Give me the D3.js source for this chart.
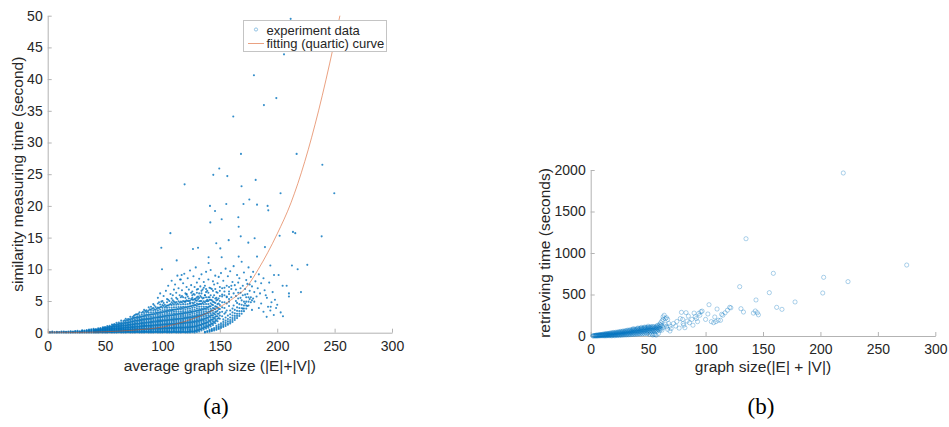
<!DOCTYPE html>
<html>
<head>
<meta charset="utf-8">
<script src="https://cdn.jsdelivr.net/npm/d3@7"></script>
<style>
  html, body { margin: 0; padding: 0; background: #fff; }
  svg { display: block; }
  .tick text { font-family: "Liberation Sans", Arial, Helvetica, sans-serif; font-size: 14px; fill: #262626; }
  .lbl { font-family: "Liberation Sans", Arial, Helvetica, sans-serif; font-size: 15.5px; fill: #262626; }
  .cap { font-family: "Liberation Serif", "Times New Roman", serif; font-size: 23px; fill: #000; }
  .leg { font-family: "Liberation Sans", Arial, Helvetica, sans-serif; font-size: 13px; fill: #262626; }
</style>
</head>
<body>
<svg id="fig" width="949" height="427"></svg>
<script>
// ---------- (a) similarity measuring time vs average graph size ----------
const xTicksA = [0, 50, 100, 150, 200, 250, 300];
const yTicksA = [0, 5, 10, 15, 20, 25, 30, 35, 40, 45, 50];

// main band of measurements: each row is [graph size, time, time, ...]
const bandA = [
  [2, 0.05, 0.12], [4, 0.02, 0.1, 0.18], [6, 0.04, 0.12], [8, 0.02, 0.08, 0.15],
  [10, 0.05, 0.12], [12, 0.03, 0.1, 0.17], [14, 0.05, 0.12, 0.2], [16, 0.02, 0.09, 0.16],
  [18, 0.04, 0.11, 0.19], [20, 0.02, 0.08, 0.15, 0.22], [22, 0.05, 0.12, 0.2],
  [24, 0.03, 0.1, 0.17, 0.25], [26, 0.05, 0.12, 0.2, 0.28], [28, 0.02, 0.09, 0.16, 0.24],
  [30, 0.04, 0.12, 0.2, 0.28, 0.36], [32, 0.02, 0.1, 0.18, 0.26, 0.34],
  [34, 0.05, 0.13, 0.22, 0.3, 0.4], [36, 0.03, 0.11, 0.2, 0.29, 0.38, 0.48],
  [38, 0.05, 0.14, 0.23, 0.32, 0.42, 0.55], [40, 0.02, 0.11, 0.2, 0.3, 0.4, 0.5, 0.62],
  [42, 0.05, 0.14, 0.24, 0.34, 0.44, 0.56], [44, 0.03, 0.12, 0.22, 0.32, 0.43, 0.54, 0.68],
  [46, 0.06, 0.16, 0.26, 0.37, 0.48, 0.6, 0.74], [48, 0.02, 0.12, 0.22, 0.33, 0.44, 0.56, 0.68, 0.85],
  [50, 0.05, 0.15, 0.26, 0.37, 0.49, 0.61, 0.74, 0.9],
  [52, 0.03, 0.13, 0.24, 0.35, 0.47, 0.59, 0.72, 0.86, 1.05],
  [54, 0.06, 0.17, 0.28, 0.4, 0.52, 0.65, 0.78, 0.93, 1.1],
  [56, 0.02, 0.13, 0.25, 0.37, 0.49, 0.62, 0.76, 0.9, 1.06, 1.3],
  [58, 0.05, 0.16, 0.28, 0.4, 0.53, 0.66, 0.8, 0.95, 1.12, 1.35],
  [60, 0.03, 0.14, 0.26, 0.38, 0.51, 0.64, 0.78, 0.93, 1.09, 1.27, 1.55],
  [62, 0.06, 0.18, 0.3, 0.43, 0.56, 0.7, 0.85, 1.0, 1.17, 1.36, 1.6],
  [64, 0.02, 0.14, 0.27, 0.4, 0.53, 0.67, 0.82, 0.98, 1.15, 1.33, 1.55, 1.9],
  [66, 0.05, 0.17, 0.3, 0.43, 0.57, 0.71, 0.86, 1.02, 1.2, 1.38, 1.6, 1.85],
  [68, 0.03, 0.15, 0.28, 0.41, 0.55, 0.7, 0.85, 1.01, 1.18, 1.37, 1.58, 1.82, 2.2],
  [70, 0.06, 0.18, 0.31, 0.45, 0.59, 0.74, 0.9, 1.06, 1.24, 1.43, 1.64, 1.88, 2.15],
  [72, 0.02, 0.15, 0.28, 0.42, 0.56, 0.71, 0.87, 1.04, 1.22, 1.41, 1.62, 1.85, 2.1, 2.5],
  [74, 0.05, 0.18, 0.32, 0.46, 0.61, 0.76, 0.92, 1.09, 1.27, 1.46, 1.67, 1.9, 2.15, 2.45],
  [76, 0.03, 0.16, 0.3, 0.44, 0.59, 0.75, 0.91, 1.08, 1.26, 1.45, 1.66, 1.88, 2.12, 2.4, 2.8],
  [78, 0.06, 0.19, 0.33, 0.48, 0.63, 0.79, 0.96, 1.14, 1.33, 1.53, 1.74, 1.97, 2.22, 2.5, 2.85],
  [80, 0.02, 0.16, 0.3, 0.45, 0.6, 0.76, 0.93, 1.11, 1.3, 1.5, 1.71, 1.94, 2.18, 2.45, 2.75, 3.2],
  [82, 0.05, 0.19, 0.34, 0.49, 0.65, 0.81, 0.98, 1.16, 1.35, 1.55, 1.77, 2.0, 2.25, 2.52, 2.82, 3.15],
  [84, 0.03, 0.17, 0.32, 0.47, 0.63, 0.8, 0.97, 1.15, 1.34, 1.54, 1.76, 1.99, 2.24, 2.5, 2.8, 3.1, 3.6],
  [86, 0.06, 0.2, 0.35, 0.51, 0.67, 0.84, 1.02, 1.2, 1.4, 1.61, 1.83, 2.06, 2.3, 2.57, 2.86, 3.2, 3.55],
  [88, 0.02, 0.17, 0.32, 0.48, 0.64, 0.81, 0.99, 1.18, 1.37, 1.58, 1.8, 2.03, 2.28, 2.55, 2.84, 3.15, 3.5, 4.0],
  [90, 0.05, 0.2, 0.35, 0.51, 0.68, 0.85, 1.03, 1.22, 1.42, 1.63, 1.85, 2.08, 2.33, 2.6, 2.9, 3.22, 3.6, 4.1],
  [92, 0.03, 0.18, 0.34, 0.5, 0.67, 0.84, 1.02, 1.21, 1.41, 1.62, 1.84, 2.07, 2.32, 2.58, 2.87, 3.18, 3.5, 3.9, 4.5],
  [94, 0.06, 0.21, 0.37, 0.53, 0.7, 0.88, 1.06, 1.25, 1.45, 1.66, 1.88, 2.11, 2.36, 2.63, 2.92, 3.24, 3.6, 4.05],
  [96, 0.02, 0.18, 0.34, 0.51, 0.68, 0.86, 1.05, 1.24, 1.44, 1.65, 1.87, 2.1, 2.35, 2.62, 2.9, 3.2, 3.55, 3.95, 4.6],
  [98, 0.05, 0.21, 0.37, 0.54, 0.72, 0.9, 1.09, 1.28, 1.48, 1.69, 1.91, 2.14, 2.39, 2.66, 2.95, 3.27, 3.62, 4.0, 4.45],
  [100, 0.03, 0.19, 0.35, 0.52, 0.7, 0.88, 1.07, 1.27, 1.47, 1.68, 1.9, 2.13, 2.38, 2.64, 2.92, 3.22, 3.55, 3.92, 4.35, 5.0],
  [102, 0.06, 0.22, 0.38, 0.55, 0.73, 0.91, 1.1, 1.3, 1.5, 1.71, 1.93, 2.16, 2.41, 2.67, 2.95, 3.25, 3.58, 3.95, 4.4],
  [104, 0.02, 0.18, 0.35, 0.52, 0.7, 0.89, 1.08, 1.28, 1.49, 1.7, 1.92, 2.15, 2.4, 2.66, 2.94, 3.24, 3.56, 3.92, 4.3, 4.8],
  [106, 0.05, 0.21, 0.38, 0.56, 0.74, 0.93, 1.12, 1.32, 1.53, 1.74, 1.96, 2.2, 2.45, 2.71, 2.99, 3.29, 3.62, 3.98, 4.4, 5.0],
  [108, 0.03, 0.19, 0.36, 0.54, 0.72, 0.91, 1.1, 1.3, 1.51, 1.72, 1.95, 2.18, 2.43, 2.7, 2.98, 3.28, 3.6, 3.95, 4.35, 4.8, 5.4],
  [110, 0.06, 0.22, 0.39, 0.57, 0.75, 0.94, 1.13, 1.33, 1.54, 1.76, 1.99, 2.23, 2.48, 2.75, 3.03, 3.33, 3.66, 4.02, 4.42, 4.9],
  [112, 0.02, 0.19, 0.36, 0.54, 0.73, 0.92, 1.12, 1.32, 1.53, 1.75, 1.98, 2.22, 2.47, 2.74, 3.02, 3.32, 3.64, 4.0, 4.4, 4.85, 5.5],
  [114, 0.05, 0.22, 0.4, 0.58, 0.77, 0.96, 1.16, 1.36, 1.57, 1.79, 2.02, 2.26, 2.51, 2.78, 3.06, 3.36, 3.69, 4.05, 4.45, 4.95],
  [116, 0.03, 0.2, 0.38, 0.56, 0.75, 0.94, 1.14, 1.35, 1.56, 1.78, 2.01, 2.25, 2.5, 2.77, 3.05, 3.35, 3.68, 4.04, 4.44, 4.9, 5.6],
  [118, 0.06, 0.23, 0.41, 0.59, 0.78, 0.98, 1.18, 1.39, 1.6, 1.82, 2.05, 2.29, 2.54, 2.81, 3.09, 3.4, 3.73, 4.1, 4.5, 5.0],
  [120, 0.02, 0.2, 0.38, 0.57, 0.76, 0.96, 1.16, 1.37, 1.59, 1.81, 2.04, 2.28, 2.53, 2.8, 3.08, 3.38, 3.7, 4.06, 4.46, 4.92, 5.5],
  [122, 0.05, 0.23, 0.41, 0.6, 0.8, 1.0, 1.2, 1.41, 1.63, 1.85, 2.08, 2.32, 2.57, 2.84, 3.12, 3.43, 3.76, 4.12, 4.52, 5.0, 5.7],
  [124, 0.03, 0.21, 0.4, 0.59, 0.79, 0.99, 1.2, 1.41, 1.63, 1.86, 2.09, 2.33, 2.59, 2.86, 3.14, 3.45, 3.78, 4.15, 4.56, 5.05],
  [126, 0.08, 0.27, 0.46, 0.66, 0.86, 1.07, 1.28, 1.5, 1.72, 1.95, 2.19, 2.44, 2.7, 2.98, 3.27, 3.58, 3.92, 4.3, 4.72, 5.2, 5.9],
  [128, 0.05, 0.25, 0.45, 0.65, 0.86, 1.07, 1.29, 1.51, 1.74, 1.97, 2.21, 2.46, 2.72, 3.0, 3.3, 3.62, 3.97, 4.36, 4.8, 5.3],
  [130, 0.1, 0.32, 0.54, 0.76, 0.98, 1.2, 1.43, 1.66, 1.9, 2.14, 2.39, 2.65, 2.92, 3.2, 3.5, 3.83, 4.2, 4.6, 5.05, 5.6, 6.3],
  [132, 0.2, 0.42, 0.64, 0.87, 1.1, 1.33, 1.57, 1.81, 2.06, 2.31, 2.57, 2.84, 3.12, 3.42, 3.74, 4.1, 4.5, 4.95, 5.5],
  [134, 0.35, 0.58, 0.81, 1.04, 1.28, 1.52, 1.77, 2.02, 2.28, 2.55, 2.83, 3.12, 3.43, 3.76, 4.12, 4.52, 5.0, 5.6, 6.2],
  [136, 0.5, 0.74, 0.98, 1.22, 1.47, 1.72, 1.98, 2.24, 2.51, 2.79, 3.08, 3.39, 3.72, 4.08, 4.48, 4.95, 5.5],
  [138, 0.65, 0.9, 1.15, 1.4, 1.66, 1.92, 2.19, 2.47, 2.76, 3.06, 3.38, 3.72, 4.1, 4.52, 5.0, 5.6, 6.4],
  [140, 0.8, 1.06, 1.32, 1.58, 1.85, 2.12, 2.4, 2.7, 3.0, 3.33, 3.68, 4.06, 4.5, 5.0, 5.6],
  [142, 1.0, 1.28, 1.56, 1.84, 2.13, 2.43, 2.74, 3.06, 3.4, 3.77, 4.18, 4.65, 5.2, 5.9],
  [144, 1.2, 1.5, 1.8, 2.1, 2.42, 2.75, 3.1, 3.47, 3.88, 4.35, 4.9, 5.6],
  [146, 1.5, 1.82, 2.15, 2.5, 2.86, 3.25, 3.68, 4.15, 4.7, 5.4],
  [148, 1.8, 2.2, 2.6, 3.0, 3.45, 3.95, 4.5, 5.2],
  [150, 2.2, 2.7, 3.2, 3.75, 4.35, 5.0, 5.8],
  [152, 2.6, 3.3, 4.0, 4.8, 5.7], [154, 3.0, 3.9, 4.8, 5.9], [156, 3.5, 4.6, 5.7], [158, 4.2, 5.3, 6.5]
];

// further measurements in the band, at odd sizes
const coreA = [
  [41, 0.08, 0.25, 0.42], [43, 0.07, 0.27, 0.47], [45, 0.09, 0.3, 0.52], [47, 0.08, 0.31, 0.55],
  [49, 0.1, 0.33, 0.58, 0.8], [51, 0.09, 0.32, 0.56, 0.82], [53, 0.1, 0.34, 0.6, 0.88],
  [55, 0.09, 0.36, 0.64, 0.95], [57, 0.11, 0.38, 0.67, 0.98, 1.2], [59, 0.1, 0.37, 0.66, 0.97, 1.25],
  [61, 0.1, 0.38, 0.68, 1.0, 1.32], [63, 0.12, 0.4, 0.72, 1.05, 1.4], [65, 0.11, 0.42, 0.75, 1.1, 1.46],
  [67, 0.12, 0.44, 0.78, 1.14, 1.52, 1.95], [69, 0.1, 0.43, 0.8, 1.18, 1.58, 2.0],
  [71, 0.12, 0.46, 0.84, 1.24, 1.66, 2.1], [73, 0.11, 0.48, 0.88, 1.3, 1.74, 2.2],
  [75, 0.13, 0.5, 0.9, 1.34, 1.8, 2.3, 2.65], [77, 0.12, 0.52, 0.94, 1.4, 1.88, 2.38, 2.9],
  [79, 0.1, 0.5, 0.95, 1.42, 1.92, 2.42, 3.0], [81, 0.12, 0.54, 1.0, 1.48, 1.98, 2.5],
  [83, 0.11, 0.56, 1.04, 1.54, 2.06, 2.6, 3.3], [85, 0.13, 0.58, 1.07, 1.58, 2.12, 2.7, 3.4],
  [87, 0.12, 0.6, 1.1, 1.62, 2.18, 2.78, 3.35], [89, 0.1, 0.58, 1.1, 1.64, 2.22, 2.84, 3.7],
  [91, 0.12, 0.62, 1.14, 1.7, 2.28, 2.92, 3.8], [93, 0.11, 0.64, 1.18, 1.75, 2.35, 3.0, 3.7, 4.3],
  [95, 0.13, 0.66, 1.2, 1.78, 2.4, 3.08, 3.8], [97, 0.12, 0.65, 1.22, 1.82, 2.45, 3.14, 3.88, 4.8],
  [99, 0.1, 0.67, 1.25, 1.86, 2.5, 3.2, 4.1], [101, 0.12, 0.7, 1.3, 1.92, 2.58, 3.3, 4.2, 4.7],
  [103, 0.11, 0.7, 1.32, 1.96, 2.64, 3.38, 4.15], [105, 0.13, 0.72, 1.34, 2.0, 2.7, 3.46, 4.3, 5.2],
  [107, 0.12, 0.74, 1.38, 2.05, 2.76, 3.52, 4.5], [109, 0.1, 0.73, 1.38, 2.06, 2.8, 3.6, 4.6, 5.1],
  [111, 0.12, 0.76, 1.42, 2.12, 2.86, 3.66, 4.7], [113, 0.11, 0.78, 1.45, 2.16, 2.92, 3.74, 4.6, 5.3],
  [115, 0.13, 0.8, 1.48, 2.2, 2.98, 3.82, 4.75], [117, 0.12, 0.8, 1.5, 2.24, 3.02, 3.88, 4.8, 5.8],
  [119, 0.1, 0.82, 1.54, 2.3, 3.1, 3.96, 4.9], [121, 0.12, 0.84, 1.57, 2.34, 3.15, 4.02, 5.1, 6.0],
  [123, 0.15, 0.86, 1.6, 2.38, 3.2, 4.1, 5.0], [125, 0.18, 0.9, 1.65, 2.44, 3.28, 4.18, 5.3],
  [127, 0.2, 0.95, 1.7, 2.5, 3.35, 4.25, 5.2, 6.1], [129, 0.28, 1.0, 1.76, 2.56, 3.42, 4.35, 5.4],
  [131, 0.4, 1.1, 1.85, 2.64, 3.5, 4.45, 5.3], [133, 0.55, 1.22, 1.95, 2.72, 3.58, 4.55, 5.8],
  [135, 0.7, 1.36, 2.06, 2.82, 3.68, 4.7], [137, 0.85, 1.5, 2.2, 2.95, 3.8, 4.8, 5.9],
  [139, 1.0, 1.65, 2.35, 3.1, 3.95, 4.95], [141, 1.2, 1.85, 2.55, 3.3, 4.15, 5.2],
  [143, 1.4, 2.05, 2.75, 3.55, 4.45], [145, 1.65, 2.3, 3.0, 3.8, 4.8], [147, 1.95, 2.6, 3.3, 4.1, 5.1],
  [149, 2.3, 3.0, 3.75, 4.6]
];

// second, lower branch that starts near size 137
const branchA = [
  [137, 0.05, 0.15], [139, 0.1, 0.25], [141, 0.15, 0.3, 0.45], [143, 0.25, 0.4, 0.6],
  [145, 0.35, 0.55, 0.75], [147, 0.45, 0.65, 0.85, 1.1], [149, 0.6, 0.8, 1.0, 1.3],
  [151, 0.75, 0.95, 1.2, 1.5], [153, 0.9, 1.1, 1.35, 1.7, 2.1], [155, 1.05, 1.3, 1.55, 1.9, 2.4],
  [157, 1.25, 1.5, 1.8, 2.15, 2.7], [159, 1.45, 1.7, 2.0, 2.4, 2.9, 3.5],
  [161, 1.7, 2.0, 2.3, 2.7, 3.2, 3.8], [163, 2.0, 2.3, 2.65, 3.05, 3.6],
  [165, 2.3, 2.65, 3.0, 3.45, 4.0, 4.7], [167, 2.65, 3.0, 3.4, 3.9, 4.5],
  [169, 3.0, 3.4, 3.85, 4.4, 5.1], [171, 3.4, 3.8, 4.3, 4.9], [173, 3.8, 4.3, 4.9, 5.6],
  [175, 4.3, 4.9, 5.6], [177, 4.8, 5.6], [179, 5.4]
];

// scattered measurements above the band
const scatterA = [
  [96, 5.5], [98, 6.2], [99, 4.9], [101, 5.8], [103, 6.6], [104, 5.3], [105, 7.4], [107, 6.1],
  [108, 8.2], [109, 5.9], [110, 6.8], [111, 7.6], [112, 6.3], [113, 9.0], [114, 7.0], [115, 5.9],
  [116, 8.4], [117, 6.7], [118, 7.8], [119, 9.3], [120, 6.2], [121, 7.2], [122, 8.6], [123, 6.8],
  [124, 9.8], [125, 7.5], [126, 6.5], [127, 8.9], [128, 7.2], [129, 10.3], [130, 7.9], [131, 6.9],
  [132, 8.5], [133, 7.3], [134, 9.2], [135, 6.8], [136, 8.0], [137, 7.4], [138, 9.6], [139, 6.6],
  [140, 8.4], [141, 7.1], [142, 9.9], [143, 6.9], [144, 8.1], [145, 7.6], [146, 9.0], [147, 6.4],
  [148, 7.8], [149, 8.8], [150, 6.6], [151, 9.4], [152, 7.0], [153, 8.2], [154, 6.5], [155, 10.1],
  [156, 7.4], [157, 8.9], [158, 7.2], [159, 9.7], [160, 6.9], [161, 8.0], [162, 10.5], [163, 7.5],
  [164, 6.8], [165, 9.1], [166, 7.9], [167, 8.6], [168, 6.3], [169, 11.2], [170, 7.4], [171, 9.5],
  [172, 6.9], [173, 8.3], [174, 7.7], [175, 10.3], [176, 6.6], [177, 8.8], [178, 7.3], [179, 9.6],
  [180, 6.4], [181, 8.1], [183, 7.0], [184, 9.2], [185, 6.2], [186, 7.8], [188, 8.6], [189, 6.7],
  [191, 5.5], [193, 7.9], [195, 4.8], [196, 6.4], [198, 5.2], [200, 4.4],
  [155, 3.2], [158, 4.9], [160, 5.6], [162, 4.3], [164, 5.8], [166, 6.3], [168, 5.5], [170, 3.8],
  [172, 6.0], [174, 4.2], [176, 5.3], [178, 3.6], [180, 4.9], [182, 5.7], [184, 3.9], [186, 4.6],
  [188, 3.3], [190, 5.9], [192, 4.1], [194, 3.5], [197, 2.8], [199, 3.9], [203, 3.2], [205, 2.6],
  [118, 5.6], [120, 4.9], [121, 6.1], [123, 5.4], [124, 4.7], [125, 6.3], [126, 5.5], [127, 4.6],
  [128, 6.0], [129, 5.1], [130, 6.8], [131, 5.7], [132, 6.2], [133, 5.0], [134, 6.6], [135, 5.4],
  [136, 7.1], [137, 5.9], [138, 6.9], [139, 5.2], [140, 6.3], [141, 5.6], [142, 7.0], [143, 5.1],
  [144, 6.6], [145, 5.9], [146, 6.9], [147, 5.5], [148, 6.3], [149, 5.4], [150, 7.2], [152, 6.0],
  [154, 7.1], [156, 5.6], [158, 6.1], [160, 7.4], [162, 6.2], [164, 5.0], [166, 5.4], [168, 7.0],
  [170, 5.9], [172, 4.6], [174, 6.1], [176, 7.6], [178, 5.1]
];

// isolated slow cases
const outliersA = [
  [211.7, 49.5], [205.9, 43.9], [179.7, 40.6], [199.2, 37.0], [188.4, 35.9], [161.7, 34.1],
  [168.4, 28.2], [216.9, 28.2], [239.3, 26.5], [149.5, 25.9], [144.3, 24.9], [156.5, 24.7],
  [181.2, 24.1], [119.3, 23.4], [168.9, 23.1], [249.7, 22.0], [202.9, 22.0], [175.7, 21.0],
  [155.6, 20.3], [170.6, 20.3], [182.4, 20.2], [191.6, 20.0], [141.4, 20.0], [145.8, 19.2],
  [192.2, 19.3], [151.6, 17.9], [166.1, 18.2], [141.7, 17.4], [166.4, 16.7], [213.7, 15.9],
  [215.7, 15.7], [238.7, 15.2], [106.9, 15.7], [202.1, 15.3], [180.3, 14.9], [157.7, 14.6],
  [168.2, 15.2], [174.8, 14.2], [146.9, 14.1], [150.4, 13.3], [99.0, 13.4], [126.6, 13.2],
  [131.0, 13.4], [189.3, 13.5], [140.2, 11.9], [151.6, 11.9], [166.4, 12.0], [112.4, 11.4],
  [182.4, 12.0], [140.2, 11.0], [212.8, 10.6], [226.2, 10.7], [99.6, 10.0], [194.0, 10.6],
  [197.2, 9.1], [201.2, 9.1], [217.8, 10.0], [204.7, 7.4], [208.2, 7.4], [210.2, 6.2],
  [220.7, 6.4], [210.2, 5.7], [194.3, 4.1], [190.8, 2.5], [116.7, 9.1], [115.3, 8.4]
];

// fitted quartic curve, sampled along size
const fitX = [0, 25, 50, 75, 100, 120, 140, 160, 175, 183.5, 200, 212, 224, 236, 249, 254.6];
const fitY = [0.1, 0.05, 0.15, 0.4, 0.9, 1.8, 3.2, 5.2, 7.6, 10.0, 15.6, 20.5, 27.0, 35.0, 45.2, 50.0];

// ---------- (b) retrieving time vs graph size ----------
const xTicksB = [0, 50, 100, 150, 200, 250, 300];
const yTicksB = [0, 500, 1000, 1500, 2000];

// small graphs: each row is [graph size, time, time, ...]
const lowB = [
  [2, 0, 3], [3, 1, 5], [4, 0, 4, 8], [5, 2, 6, 10], [6, 0, 5, 12], [7, 3, 8, 14],
  [8, 1, 6, 12, 16], [9, 4, 10, 18], [10, 2, 8, 14, 20], [11, 5, 12, 22], [12, 1, 8, 16, 24],
  [13, 4, 12, 20, 27], [14, 2, 9, 18, 28], [15, 6, 14, 22, 30], [16, 3, 10, 20, 32],
  [17, 7, 15, 26, 35], [18, 2, 12, 22, 36], [19, 5, 16, 28, 40], [20, 8, 18, 30, 42],
  [21, 3, 14, 26, 38], [22, 10, 22, 34, 46], [23, 5, 16, 30, 44], [24, 12, 24, 38, 50],
  [25, 6, 20, 34, 48], [26, 14, 28, 42, 55], [27, 8, 22, 36, 52], [28, 16, 30, 46, 60],
  [29, 10, 26, 40, 56], [30, 18, 34, 50, 64], [31, 12, 28, 44, 62], [32, 20, 36, 54, 70],
  [33, 14, 30, 48, 66], [34, 22, 40, 58, 74], [35, 16, 34, 52, 70], [36, 24, 44, 62, 78],
  [37, 18, 36, 56, 74, 88], [38, 26, 46, 66, 82], [39, 20, 40, 60, 78], [40, 28, 50, 70, 86],
  [41, 22, 44, 64, 84, 96], [42, 30, 52, 74, 90], [43, 24, 46, 68, 88], [44, 34, 56, 78, 94, 104],
  [45, 26, 50, 72, 92], [46, 36, 60, 82, 98], [47, 28, 54, 76, 96, 108], [48, 40, 64, 86, 102],
  [49, 30, 58, 80, 100], [50, 44, 68, 90, 106, 118], [51, 20, 62, 84, 104], [52, 48, 72, 94, 110],
  [53, 24, 66, 88, 108], [54, 12, 52, 76, 98, 114], [55, 22, 70, 92, 112], [56, 18, 56, 80, 102],
  [57, 10, 74, 96, 116], [58, 60, 86, 106, 128], [59, 30, 78, 100, 122], [60, 64, 90, 112, 140],
  [61, 84, 132, 160], [62, 70, 124, 180], [63, 100, 200, 230], [64, 120, 250],
  [65, 140, 210], [66, 110, 220], [67, 80, 200], [68, 150],
  [69, 60, 120], [70, 90]
];

// larger graphs
const highB = [
  [72, 150], [74, 120], [75, 175], [77, 95], [78, 210], [79, 285], [80, 200], [80.5, 150],
  [81, 130], [82, 100], [83, 281], [84, 180], [85, 240], [86, 160], [88, 200], [89, 130],
  [90, 276], [91, 233], [92, 210], [93, 173], [94, 272], [95, 250], [96, 293], [97, 300],
  [100, 200], [102, 265], [103, 377], [105, 173], [107, 160], [108, 229], [109, 173], [110, 325],
  [111, 190], [113, 189], [114, 261], [115, 250], [117, 280], [119, 310], [121, 345], [122, 340],
  [130.8, 329], [133, 289], [129.7, 594], [135.2, 1172], [141.6, 276], [143.3, 301], [143.9, 434],
  [145, 280], [146, 255], [155.5, 522], [159, 755], [161.9, 345], [166.5, 321], [177.9, 410],
  [202, 518], [202.8, 707], [219.9, 1964], [224, 655], [275.1, 855]
];

// ---------- drawing ----------
const svg = d3.select("#fig");
const blue = "#0072BD";

const xA = d3.scaleLinear().domain([0, 300]).range([47.7, 392]);
const yA = d3.scaleLinear().domain([0, 50]).range([332.7, 15.7]);
const xB = d3.scaleLinear().domain([0, 300]).range([590.7, 935.3]);
const yB = d3.scaleLinear().domain([0, 2000]).range([336, 170]);

const expand = rows => rows.flatMap(([x, ...ys]) => ys.map(y => [x, y]));

function drawAxes(g, x, y, xt, yt) {
  const ax = g.append("g").attr("transform", `translate(0,${y.range()[0]})`)
    .call(d3.axisBottom(x).tickValues(xt).tickFormat(d3.format("d"))
      .tickSizeInner(-4).tickSizeOuter(0).tickPadding(8));
  const ay = g.append("g").attr("transform", `translate(${x.range()[0]},0)`)
    .call(d3.axisLeft(y).tickValues(yt).tickFormat(d3.format("d"))
      .tickSizeInner(-4).tickSizeOuter(0).tickPadding(5));
  [ax, ay].forEach(a => {
    a.select(".domain").attr("stroke", "#b3b3b3").attr("stroke-width", 1);
    a.selectAll(".tick line").attr("stroke", "#b3b3b3");
    a.attr("font-family", null).attr("font-size", null);
  });
}

// panel (a)
const gA = svg.append("g");
drawAxes(gA, xA, yA, xTicksA, yTicksA);

const ptsA = [...expand(bandA), ...expand(coreA), ...expand(branchA), ...scatterA, ...outliersA];
gA.append("g").selectAll("circle").data(ptsA).join("circle")
  .attr("cx", d => xA(d[0])).attr("cy", d => yA(d[1])).attr("r", 1.05)
  .attr("fill", blue).attr("fill-opacity", 0.8);

const fit = d3.zip(fitX, fitY);
gA.append("path").datum(fit)
  .attr("d", d3.line().x(d => xA(d[0])).y(d => yA(d[1])).curve(d3.curveMonotoneX))
  .attr("fill", "none").attr("stroke", "#D95319").attr("stroke-opacity", 0.55).attr("stroke-width", 1);

// legend
const leg = gA.append("g");
leg.append("rect").attr("x", 243.5).attr("y", 20.5).attr("width", 143).attr("height", 31)
  .attr("fill", "#fff").attr("stroke", "#c4c4c4").attr("stroke-width", 1);
leg.append("circle").attr("cx", 256).attr("cy", 29.5).attr("r", 1.6)
  .attr("fill", "none").attr("stroke", blue).attr("stroke-opacity", 0.5).attr("stroke-width", 0.8);
leg.append("line").attr("x1", 248).attr("x2", 264).attr("y1", 43.5).attr("y2", 43.5)
  .attr("stroke", "#D95319").attr("stroke-opacity", 0.55).attr("stroke-width", 1);
leg.append("text").attr("class", "leg").attr("x", 266.5).attr("y", 34.5).text("experiment data");
leg.append("text").attr("class", "leg").attr("x", 266.5).attr("y", 48).text("fitting (quartic) curve");

gA.append("text").attr("class", "lbl").attr("text-anchor", "middle")
  .attr("x", xA(150)).attr("y", 371).text("average graph size (|E|+|V|)");
gA.append("text").attr("class", "lbl").attr("text-anchor", "middle")
  .attr("transform", `translate(23,${(yA.range()[0] + yA.range()[1]) / 2}) rotate(-90)`)
  .text("similarity measuring time (second)");
svg.append("text").attr("class", "cap").attr("text-anchor", "middle")
  .attr("x", 216).attr("y", 414).text("(a)");

// panel (b)
const gB = svg.append("g");
drawAxes(gB, xB, yB, xTicksB, yTicksB);

const ptsB = [...expand(lowB), ...highB];
gB.append("g").selectAll("circle").data(ptsB).join("circle")
  .attr("cx", d => xB(d[0])).attr("cy", d => yB(d[1])).attr("r", 2.1)
  .attr("fill", "none").attr("stroke", blue).attr("stroke-opacity", 0.55).attr("stroke-width", 0.6);

gB.append("text").attr("class", "lbl").attr("text-anchor", "middle")
  .attr("x", xB(150)).attr("y", 372).text("graph size(|E| + |V|)");
gB.append("text").attr("class", "lbl").attr("text-anchor", "middle")
  .attr("transform", `translate(550,${(yB.range()[0] + yB.range()[1]) / 2}) rotate(-90)`)
  .text("retrieving time (seconds)");
svg.append("text").attr("class", "cap").attr("text-anchor", "middle")
  .attr("x", 761).attr("y", 414).text("(b)");
</script>
</body>
</html>
